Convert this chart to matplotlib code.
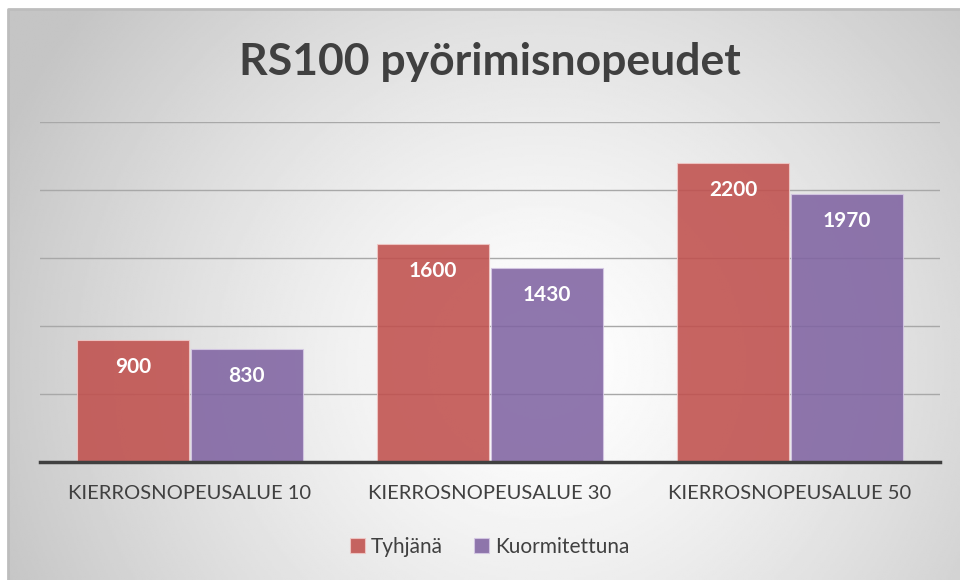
import numpy as np
from matplotlib import pyplot as plt

# datos del grafico
kategoriat = ['KIERROSNOPEUSALUE 10', 'KIERROSNOPEUSALUE 30', 'KIERROSNOPEUSALUE 50']
tyhjana = [900, 1600, 2200]
kuormitettuna = [830, 1430, 1970]
sarjat = ['Tyhjänä', 'Kuormitettuna']
otsikko = 'RS100 pyörimisnopeudet'

plt.rcParams['font.family'] = ['Lato', 'DejaVu Sans']

fig = plt.figure(figsize=(9.6, 5.8), dpi=100)
fig.patch.set_facecolor('white')

# fondo con gradiente radial
bg = fig.add_axes([8/960, 0, 952/960, 571/580])
ny, nx = 300, 500
yy, xx = np.mgrid[0:1:ny*1j, 0:1:nx*1j]
r = np.sqrt(((xx - 0.56) * 1.0)**2 + ((yy - 0.38) * 0.62)**2)
r = np.clip(r / 0.62, 0, 1)
grad = 1.0 - r**1.3 * (1.0 - 0.77)
bg.imshow(grad, cmap='gray', vmin=0, vmax=1, aspect='auto', extent=[0, 1, 0, 1], origin='lower')
bg.set_xlim(0, 1)
bg.set_ylim(0, 1)
bg.axis('off')
# solo borde superior e izquierdo
bg.plot([0, 0, 1], [0, 1, 1], color='#bdbdbd', lw=2, transform=bg.transAxes, clip_on=False)

ax = fig.add_axes([40/960, 118/580, 900/960, 340/580])
ax.patch.set_alpha(0)
x = np.arange(len(kategoriat))
w = 0.373
b1 = ax.bar(x - w/2 - 0.003, tyhjana, w, color='#C0504D', alpha=0.88, edgecolor='#f0c8c6', linewidth=0.8, zorder=3)
b2 = ax.bar(x + w/2 + 0.003, kuormitettuna, w, color='#8064A2', alpha=0.88, edgecolor='#d5c8e4', linewidth=0.8, zorder=3)

for bars, vals in [(b1, tyhjana), (b2, kuormitettuna)]:
    for rect, v in zip(bars, vals):
        ax.annotate(str(v), (rect.get_x() + rect.get_width()/2, v), xytext=(0, -27),
                    textcoords='offset pixels', ha='center', va='center',
                    color='white', fontsize=15, fontweight='bold', zorder=5)

ax.set_xlim(-0.5, 2.5)
ax.set_ylim(0, 2500)
ax.set_yticks([500, 1000, 1500, 2000, 2500])
ax.yaxis.grid(True, color='#a8a8a8', lw=1, zorder=1)
ax.tick_params(axis='y', left=False, labelleft=False)
ax.set_xticks(x)
ax.set_xticklabels(kategoriat, fontsize=14.5, color='#404040')
ax.tick_params(axis='x', bottom=False, pad=13)
for s in ['top', 'right', 'left']:
    ax.spines[s].set_visible(False)
ax.spines['bottom'].set_color('#404040')
ax.spines['bottom'].set_linewidth(2.5)
ax.spines['bottom'].set_zorder(4)

fig.text(0.51, 1 - 62/580, otsikko, ha='center', va='center', fontsize=32,
         fontweight='bold', color='#404040')

fig.legend([b1, b2], sarjat, loc='center', bbox_to_anchor=(0.51, 1 - 547/580), ncol=2,
           frameon=False, fontsize=15, labelcolor='#404040', handlelength=0.7,
           handleheight=0.7, handletextpad=0.3, columnspacing=1.5)

plt.savefig('out.png', dpi=100)
